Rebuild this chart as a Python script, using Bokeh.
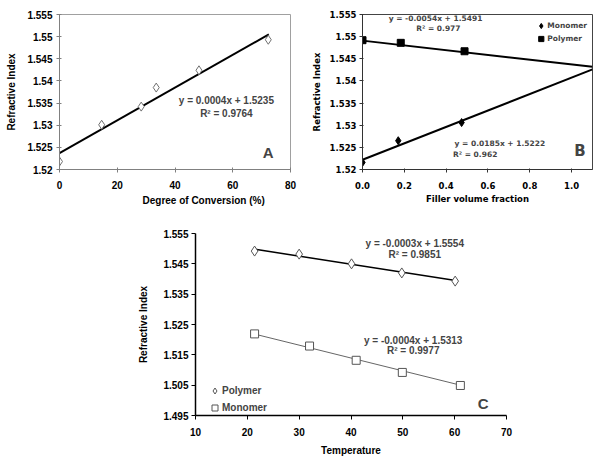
from bokeh.plotting import figure
from bokeh.models import (Label, Legend, LegendItem, FixedTicker, CustomJSTickFormatter,
                          PrintfTickFormatter, Spacer, Title)
from bokeh.layouts import row, column
from bokeh.embed import file_html
from bokeh.resources import INLINE

# ---------------- data ----------------
# Panel A: refractive index vs degree of conversion
a_conversion = [0, 14.6, 28.3, 33.5, 48.3, 72.3]
a_ri = [1.5218, 1.5301, 1.5342, 1.5385, 1.5424, 1.5493]
a_fit_x = [0, 72.5]
a_fit_y = [1.5237, 1.5505]
a_x_ticks = [0, 20, 40, 60, 80]
a_y_ticks = [1.52, 1.525, 1.53, 1.535, 1.54, 1.545, 1.55, 1.555]

# Panel B: refractive index vs filler volume fraction
b_mono_x = [0.0, 0.171, 0.474]
b_mono_y = [1.5216, 1.5265, 1.5306]
b_poly_x = [0.0, 0.183, 0.488]
b_poly_y = [1.5492, 1.5486, 1.5467]
b_fit_x = [0.0, 1.1]
b_mono_fit_y = [1.5222, 1.5426]
b_poly_fit_y = [1.5491, 1.5432]
b_x_ticks = [0.0, 0.2, 0.4, 0.6, 0.8, 1.0]
b_y_ticks = [1.52, 1.525, 1.53, 1.535, 1.54, 1.545, 1.55, 1.555]

# Panel C: refractive index vs temperature
c_poly_t = [21.4, 30.0, 40.1, 49.8, 60.1]
c_poly_ri = [1.5492, 1.5482, 1.5450, 1.5420, 1.5393]
c_mono_t = [21.4, 32.0, 41.0, 49.9, 61.1]
c_mono_ri = [1.5219, 1.5179, 1.5132, 1.5092, 1.5049]
c_poly_fit_x = [21.5, 60.5]
c_poly_fit_y = [1.5498, 1.5394]
c_mono_fit_x = [21.5, 61.1]
c_mono_fit_y = [1.5218, 1.5050]
c_x_ticks = [10, 20, 30, 40, 50, 60, 70]
c_y_ticks = [1.495, 1.505, 1.515, 1.525, 1.535, 1.545, 1.555]

ARIAL = "Liberation Sans"
VERD = "DejaVu Sans"
FS = "10px"

gen_fmt = CustomJSTickFormatter(code="return (+tick.toFixed(4)).toString();")


def style_axes(p, font, size, color, tick_in, tick_out, lab_stand):
    for ax in (p.xaxis[0], p.yaxis[0]):
        ax.major_label_text_font = font
        ax.major_label_text_font_style = "bold"
        ax.major_label_text_font_size = size
        ax.major_label_text_color = "black"
        ax.axis_label_text_font = font
        ax.axis_label_text_font_style = "bold"
        ax.axis_label_text_color = "black"
        ax.axis_line_color = color
        ax.major_tick_line_color = color
        ax.major_tick_in = tick_in
        ax.major_tick_out = tick_out
        ax.minor_tick_line_color = None
        ax.major_label_standoff = lab_stand
    p.xgrid.visible = False
    p.ygrid.visible = False


# ---------------- Panel A ----------------
pA = figure(width=298, height=228, x_range=(0, 80), y_range=(1.52, 1.555),
            output_backend="svg", toolbar_location=None,
            min_border_left=59, min_border_right=8, min_border_top=14, min_border_bottom=59)
style_axes(pA, ARIAL, FS, "#808080", 2, 3, 4)
pA.outline_line_color = "#a0a0a0"
pA.xaxis.ticker = FixedTicker(ticks=a_x_ticks)
pA.yaxis.ticker = FixedTicker(ticks=a_y_ticks)
pA.yaxis.formatter = gen_fmt
pA.xaxis.major_label_standoff = 8
pA.yaxis.axis_label = "Refractive Index"
pA.yaxis.axis_label_text_font_size = FS
pA.yaxis.axis_label_standoff = 7
pA.line(a_fit_x, a_fit_y, line_color="black", line_width=2)
pA.scatter(a_conversion, a_ri, marker="diamond", size=9, fill_color="white",
           line_color="#707070", line_width=1)
pA.add_layout(Title(text="Degree of Conversion (%)", align="left", offset=83, standoff=2,
                    text_font=ARIAL, text_font_style="bold", text_font_size=FS,
                    text_color="black"), "below")
pA.add_layout(Label(x=57.8, y=1.5356, text="y = 0.0004x + 1.5235", text_font=ARIAL,
                    text_font_style="bold", text_font_size=FS, text_align="center",
                    text_baseline="middle"))
pA.add_layout(Label(x=57.8, y=1.5326, text="R² = 0.9764", text_font=ARIAL,
                    text_font_style="bold", text_font_size=FS, text_align="center",
                    text_baseline="middle"))
pA.add_layout(Label(x=72.3, y=1.5238, text="A", text_font=ARIAL, text_font_style="bold",
                    text_font_size="15px", text_align="center", text_baseline="middle"))

# ---------------- Panel B ----------------
pB = figure(width=300, height=228, x_range=(0, 1.1), y_range=(1.52, 1.555),
            output_backend="svg", toolbar_location=None,
            min_border_left=64, min_border_right=6, min_border_top=9, min_border_bottom=57)
style_axes(pB, VERD, "8.5px", "#333333", 1, 3, 3)
pB.outline_line_color = "#444444"
pB.xaxis.ticker = FixedTicker(ticks=b_x_ticks)
pB.xaxis.formatter = PrintfTickFormatter(format="%.1f")
pB.yaxis.ticker = FixedTicker(ticks=b_y_ticks)
pB.yaxis.formatter = gen_fmt
pB.xaxis.major_label_standoff = 9
pB.xaxis.axis_label = "Filler volume fraction"
pB.xaxis.axis_label_text_font_size = "8.5px"
pB.xaxis.axis_label_standoff = 2
pB.yaxis.axis_label = "Refractive Index"
pB.yaxis.axis_label_text_font_size = "8.5px"
pB.yaxis.axis_label_standoff = 5
pB.line(b_fit_x, b_poly_fit_y, line_color="black", line_width=2)
pB.line(b_fit_x, b_mono_fit_y, line_color="black", line_width=2)
rb_m = pB.scatter(b_mono_x, b_mono_y, marker="diamond", size=8, fill_color="black",
                  line_color="black")
rb_p = pB.scatter(b_poly_x, b_poly_y, marker="square", size=7, fill_color="black",
                  line_color="black")
legB = Legend(items=[LegendItem(label="Monomer", renderers=[rb_m]),
                     LegendItem(label="Polymer", renderers=[rb_p])],
              location="top_right", margin=4, padding=1, spacing=0,
              glyph_width=13, glyph_height=13, label_height=13, label_standoff=0,
              label_text_font=VERD, label_text_font_size="7.5px",
              label_text_font_style="bold",
              background_fill_alpha=0, border_line_alpha=0)
pB.add_layout(legB)
for txt, x, y in [("y =  -0.0054x  + 1.5491", 0.362, 1.5541),
                  ("R² = 0.977", 0.363, 1.5518),
                  ("y = 0.0185x + 1.5222", 0.657, 1.5258),
                  ("R² = 0.962", 0.539, 1.5234)]:
    pB.add_layout(Label(x=x, y=y, text=txt, text_font=VERD, text_font_style="bold",
                        text_font_size="7.5px", text_align="center", text_baseline="middle"))
pB.add_layout(Label(x=1.04, y=1.5241, text="B", text_font=VERD, text_font_style="bold",
                    text_font_size="15px", text_align="center", text_baseline="middle"))

# ---------------- Panel C ----------------
pC = figure(width=386, height=230, x_range=(10, 70), y_range=(1.495, 1.555),
            output_backend="svg", toolbar_location=None,
            min_border_left=65, min_border_right=10, min_border_top=5, min_border_bottom=43)
style_axes(pC, ARIAL, FS, "black", 0, 4, 3)
pC.outline_line_color = None
pC.xaxis.axis_line_width = 1.5
pC.yaxis.axis_line_width = 1.5
pC.xaxis.ticker = FixedTicker(ticks=c_x_ticks)
pC.yaxis.ticker = FixedTicker(ticks=c_y_ticks)
pC.yaxis.formatter = PrintfTickFormatter(format="%.3f")
pC.xaxis.major_label_standoff = 8
pC.xaxis.axis_label = "Temperature"
pC.xaxis.axis_label_text_font_size = FS
pC.xaxis.axis_label_standoff = 6
pC.yaxis.axis_label = "Refractive Index"
pC.yaxis.axis_label_text_font_size = FS
pC.yaxis.axis_label_standoff = 11
pC.line(c_poly_fit_x, c_poly_fit_y, line_color="black", line_width=1.5)
pC.line(c_mono_fit_x, c_mono_fit_y, line_color="#666666", line_width=1)
rc_p = pC.scatter(c_poly_t, c_poly_ri, marker="diamond", size=10,
                  fill_color="white", line_color="#555555", line_width=1)
rc_m = pC.scatter(c_mono_t, c_mono_ri, marker="square", size=8,
                  fill_color="white", line_color="#555555", line_width=1)
legC = Legend(items=[LegendItem(label="Polymer", renderers=[rc_p]),
                     LegendItem(label="Monomer", renderers=[rc_m])],
              location=(12, 0), margin=0, padding=0, spacing=2,
              glyph_width=15, glyph_height=15, label_height=15, label_standoff=0,
              label_text_font=ARIAL, label_text_font_size=FS,
              label_text_font_style="bold",
              background_fill_alpha=0, border_line_alpha=0)
pC.add_layout(legC)
for txt, x, y in [("y = -0.0003x + 1.5554", 52.3, 1.5517),
                  ("R² = 0.9851", 52.3, 1.5482),
                  ("y = -0.0004x + 1.5313", 52.0, 1.5198),
                  ("R² = 0.9977", 52.0, 1.5163)]:
    pC.add_layout(Label(x=x, y=y, text=txt, text_font=ARIAL, text_font_style="bold",
                        text_font_size=FS, text_align="center", text_baseline="middle"))
pC.add_layout(Label(x=65.5, y=1.4991, text="C", text_font=ARIAL, text_font_style="bold",
                    text_font_size="15px", text_align="center", text_baseline="middle"))

layout = column(row(pA, pB, spacing=0), row(Spacer(width=130, height=230), pC, spacing=0),
                spacing=0)

open("out.html", "w").write(file_html(layout, INLINE))
